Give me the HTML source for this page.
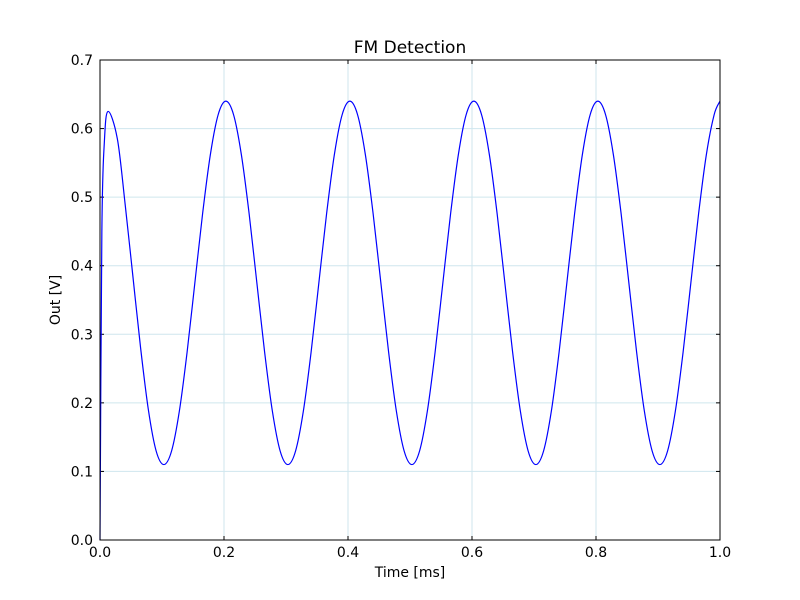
<!DOCTYPE html>
<html><head><meta charset="utf-8"><style>
body{margin:0;background:#fff;}
svg{display:block;font-family:"DejaVu Sans","Liberation Sans",sans-serif;}
</style></head><body>
<svg id="chart" width="800" height="600" viewBox="0 0 800 600" xmlns="http://www.w3.org/2000/svg">
<rect width="800" height="600" fill="#fff"/>
<g id="grid"></g>
<g id="ticks"></g>
<path id="series" fill="none" stroke="#0000ff" stroke-width="1.2"/>
<rect x="100" y="60" width="620" height="480" fill="none" stroke="#000" stroke-width="1"/>
<text x="410" y="53" font-size="17" text-anchor="middle">FM Detection</text>
<text x="410" y="577" font-size="14" text-anchor="middle">Time  [ms]</text>
<text transform="translate(60,300) rotate(-90)" font-size="14" text-anchor="middle">Out [V]</text>
</svg>
<script>
const xTicks=[0,0.2,0.4,0.6,0.8,1.0];
const xTickLabels=["0.0","0.2","0.4","0.6","0.8","1.0"];
const yTicks=[0,0.1,0.2,0.3,0.4,0.5,0.6,0.7];
const yTickLabels=["0.0","0.1","0.2","0.3","0.4","0.5","0.6","0.7"];
const times=[0,0.003,0.007,0.013,0.028,0.0405,0.053,0.0655,0.078,0.0905,0.103,0.1155,0.128,0.1405,0.153,0.1655,0.178,0.1905,
0.203,0.2155,0.228,0.2405,0.253,0.2655,0.278,0.2905,0.303,0.3155,0.328,0.3405,0.353,0.3655,0.378,0.3905,
0.403,0.4155,0.428,0.4405,0.453,0.4655,0.478,0.4905,0.503,0.5155,0.528,0.5405,0.553,0.5655,0.578,0.5905,
0.603,0.6155,0.628,0.6405,0.653,0.6655,0.678,0.6905,0.703,0.7155,0.728,0.7405,0.753,0.7655,0.778,0.7905,
0.803,0.8155,0.828,0.8405,0.853,0.8655,0.878,0.8905,0.903,0.9155,0.928,0.9405,0.953,0.9655,0.978,0.9905,1.0];
const outV=[0,0.45,0.58,0.625,0.585,0.49,0.385,0.28,0.19,0.13,0.110,0.130,0.188,0.274,0.375,0.476,0.562,0.620,
0.640,0.620,0.562,0.476,0.375,0.274,0.188,0.130,0.110,0.130,0.188,0.274,0.375,0.476,0.562,0.620,
0.640,0.620,0.562,0.476,0.375,0.274,0.188,0.130,0.110,0.130,0.188,0.274,0.375,0.476,0.562,0.620,
0.640,0.620,0.562,0.476,0.375,0.274,0.188,0.130,0.110,0.130,0.188,0.274,0.375,0.476,0.562,0.620,
0.640,0.620,0.562,0.476,0.375,0.274,0.188,0.130,0.110,0.130,0.188,0.274,0.375,0.476,0.562,0.620,
0.640,0.620,0.562,0.476,0.375,0.274,0.188,0.130,0.110,0.130,0.188,0.274,0.375,0.476,0.562,0.620,0.638];
const X=t=>100+t/1.0*620;
const Y=v=>540-v/0.7*480;
const NS="http://www.w3.org/2000/svg";
const grid=document.getElementById('grid'),ticks=document.getElementById('ticks');
function mk(tag,attrs,parent){const e=document.createElementNS(NS,tag);for(const k in attrs)e.setAttribute(k,attrs[k]);parent.appendChild(e);return e;}
xTicks.forEach((t,i)=>{
  const x=X(t);
  const g=mk('line',{x1:x,x2:x,y1:60,y2:540,stroke:'#cfe6ee','stroke-width':1},grid);
  
  
  const a=mk('line',{x1:x,x2:x,y1:540,y2:536,stroke:'#000'},ticks);
  
  
  const b=mk('line',{x1:x,x2:x,y1:60,y2:64,stroke:'#000'},ticks);
  
  
  const l=mk('text',{x:x,y:557,'font-size':14,'text-anchor':'middle'},ticks);
  l.textContent=xTickLabels[i];
  
  
});
yTicks.forEach((v,i)=>{
  const y=Y(v);
  const g=mk('line',{x1:100,x2:720,y1:y,y2:y,stroke:'#cfe6ee','stroke-width':1},grid);
  
  
  const a=mk('line',{x1:100,x2:104,y1:y,y2:y,stroke:'#000'},ticks);
  
  
  const b=mk('line',{x1:716,x2:720,y1:y,y2:y,stroke:'#000'},ticks);
  
  
  const l=mk('text',{x:93,y:y+5,'font-size':14,'text-anchor':'end'},ticks);
  l.textContent=yTickLabels[i];
  
  
});
const pts=times.map((t,i)=>[X(t),Y(outV[i])]);
let d='M'+pts[0][0]+','+pts[0][1];
for(let i=0;i<pts.length-1;i++){
  const p0=pts[Math.max(i-1,0)],p1=pts[i],p2=pts[i+1],p3=pts[Math.min(i+2,pts.length-1)];
  const c1=[p1[0]+(p2[0]-p0[0])/6,p1[1]+(p2[1]-p0[1])/6];
  const c2=[p2[0]-(p3[0]-p1[0])/6,p2[1]-(p3[1]-p1[1])/6];
  d+=' C'+c1[0]+','+c1[1]+' '+c2[0]+','+c2[1]+' '+p2[0]+','+p2[1];
}
document.getElementById('series').setAttribute('d',d);
</script>
</body></html>
